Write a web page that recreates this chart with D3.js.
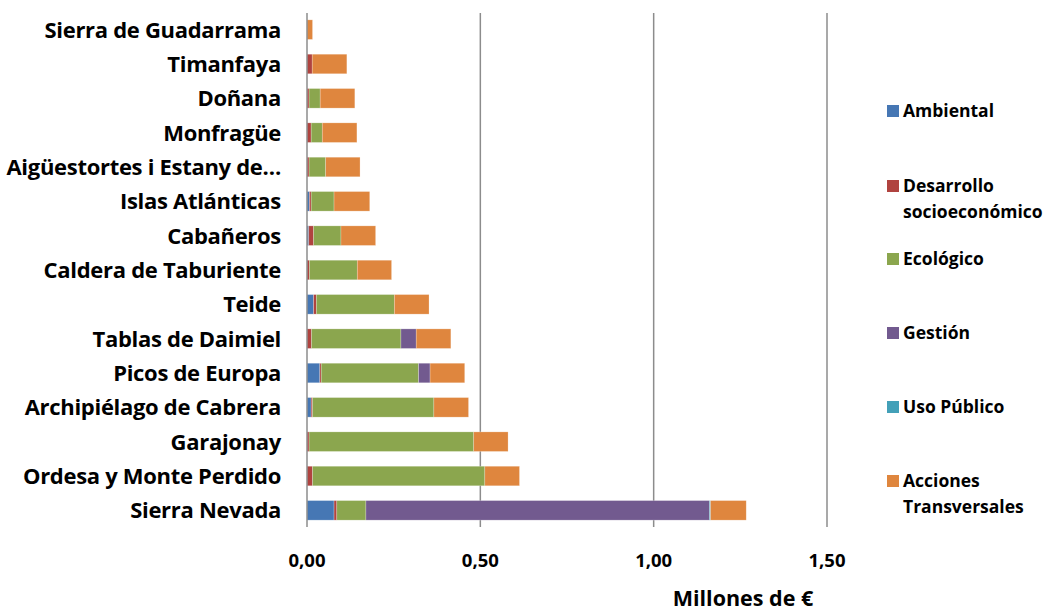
<!DOCTYPE html>
<html>
<head>
<meta charset="utf-8">
<script src="https://cdn.jsdelivr.net/npm/d3@7"></script>
<style>
  body { margin: 0; background: #fff; }
  #chart { width: 1050px; height: 613px; }
  text { font-family: "Open Sans", Lato, sans-serif; font-weight: bold; fill: #000; }
</style>
</head>
<body>
<div id="chart"></div>
<script>
// parques, de arriba a abajo
const parques = [
  "Sierra de Guadarrama", "Timanfaya", "Doñana", "Monfragüe",
  "Aigüestortes i Estany de…", "Islas Atlánticas", "Cabañeros",
  "Caldera de Taburiente", "Teide", "Tablas de Daimiel", "Picos de Europa",
  "Archipiélago de Cabrera", "Garajonay", "Ordesa y Monte Perdido", "Sierra Nevada"
];

const ambiental   = [0,     0,     0,     0,     0,     0.007, 0.005, 0,     0.019, 0,     0.037, 0.012, 0,     0,     0.078];
const desarrollo  = [0,     0.015, 0.006, 0.012, 0.006, 0.005, 0.014, 0.007, 0.008, 0.013, 0.004, 0.004, 0.006, 0.016, 0.008];
const ecologico   = [0,     0,     0.032, 0.032, 0.048, 0.066, 0.079, 0.138, 0.225, 0.258, 0.281, 0.350, 0.475, 0.497, 0.084];
const gestion     = [0,     0,     0,     0,     0,     0,     0,     0,     0,     0.044, 0.033, 0,     0,     0,     0.991];
const usoPublico  = [0,     0,     0,     0,     0,     0,     0,     0,     0,     0,     0,     0,     0,     0,     0.003];
const transversal = [0.016, 0.100, 0.100, 0.100, 0.099, 0.103, 0.100, 0.099, 0.100, 0.100, 0.100, 0.100, 0.099, 0.100, 0.103];

const seriesNames = ["Ambiental", "Desarrollo socioeconómico", "Ecológico", "Gestión", "Uso Público", "Acciones Transversales"];
const seriesValues = [ambiental, desarrollo, ecologico, gestion, usoPublico, transversal];
const colors = ["#4677B4", "#B0433F", "#8BA64E", "#725A8F", "#43A0B8", "#DF863E"];
const xTicks = [0, 0.5, 1.0, 1.5];

const width = 1050, height = 613;
const margin = { top: 13, right: 223, bottom: 86, left: 307 };
const innerWidth = width - margin.left - margin.right;
const innerHeight = height - margin.top - margin.bottom;

const svg = d3.select("#chart").append("svg")
  .attr("width", width)
  .attr("height", height);

const chart = svg.append("g")
  .attr("transform", `translate(${margin.left},${margin.top})`);

// tabla para el apilado
const table = parques.map((p, i) => {
  const row = { parque: p };
  seriesNames.forEach((s, j) => row[s] = seriesValues[j][i]);
  return row;
});
const stacked = d3.stack().keys(seriesNames)(table);

const x = d3.scaleLinear().domain([0, 1.5]).range([margin.left, margin.left + innerWidth]);
const y = d3.scaleBand().domain(parques).range([margin.top, margin.top + innerHeight]).paddingInner(0.43).paddingOuter(0.2);

// rejilla
svg.append("g")
  .selectAll("line")
  .data(xTicks.slice(1))
  .join("line")
  .attr("x1", d => x(d)).attr("x2", d => x(d))
  .attr("y1", margin.top).attr("y2", margin.top + innerHeight)
  .attr("stroke", "#8c8c8c")
  .attr("stroke-width", 1.5);

// barras
svg.append("g")
  .selectAll("g")
  .data(stacked)
  .join("g")
  .attr("fill", (d, i) => colors[i])
  .selectAll("rect")
  .data(d => d.filter(s => s[1] - s[0] > 0))
  .join("rect")
  .attr("x", d => x(d[0]))
  .attr("y", d => y(d.data.parque))
  .attr("width", d => x(d[1]) - x(d[0]))
  .attr("height", y.bandwidth())
  .attr("stroke", "#ffffff")
  .attr("stroke-opacity", 0.4)
  .attr("stroke-width", 0.6);

// eje vertical
svg.append("line")
  .attr("x1", x(0)).attr("x2", x(0))
  .attr("y1", margin.top).attr("y2", margin.top + innerHeight)
  .attr("stroke", "#8c8c8c")
  .attr("stroke-width", 1.5);

// etiquetas categorías
svg.append("g")
  .selectAll("text")
  .data(parques)
  .join("text")
  .attr("x", x(0) - 26)
  .attr("y", d => y(d) + y.bandwidth() / 2 + 8)
  .attr("text-anchor", "end")
  .style("font-size", "22px")
  .style("letter-spacing", "-0.3px")
  .text(d => d);

// eje x
const fmt = d => d.toFixed(2).replace(".", ",");
svg.append("g")
  .selectAll("text")
  .data(xTicks)
  .join("text")
  .attr("x", d => x(d))
  .attr("y", margin.top + innerHeight + 40)
  .attr("text-anchor", "middle")
  .style("font-size", "18.5px")
  .text(fmt);

svg.append("text")
  .attr("x", 743)
  .attr("y", 606)
  .attr("text-anchor", "middle")
  .style("font-size", "21.5px")
  .text("Millones de €");

// leyenda
const legendY = [111, 186, 259, 333, 407, 481];
const legendLines = [["Ambiental"], ["Desarrollo", "socioeconómico"], ["Ecológico"], ["Gestión"], ["Uso Público"], ["Acciones", "Transversales"]];
const legend = svg.append("g")
  .selectAll("g")
  .data(seriesNames)
  .join("g")
  .attr("transform", (d, i) => `translate(887,${legendY[i]})`);

legend.append("rect")
  .attr("x", 0).attr("y", -6)
  .attr("width", 12).attr("height", 12)
  .attr("fill", (d, i) => colors[i]);

legend.append("text")
  .attr("x", 16)
  .attr("y", 0)
  .style("font-size", "17.5px")
  .selectAll("tspan")
  .data((d, i) => legendLines[i])
  .join("tspan")
  .attr("x", 16)
  .attr("dy", (d, i) => i === 0 ? "0.36em" : "26px")
  .text(d => d);
</script>
</body>
</html>
